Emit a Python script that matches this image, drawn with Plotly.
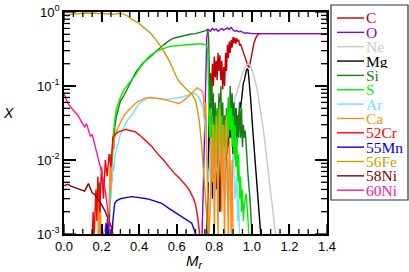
import plotly.graph_objects as go

# ---------------- data (mass coordinate M_r, mass fraction X) ----------------
M_C = [0.76, 0.765, 0.77, 0.775, 0.78, 0.785, 0.79, 0.795, 0.80, 0.805, 0.81, 0.815, 0.82, 0.825, 0.83, 0.835,
       0.84, 0.845, 0.85, 0.855, 0.86, 0.865, 0.87, 0.875, 0.88, 0.885, 0.89, 0.895, 0.90, 0.905, 0.91, 0.915,
       0.92, 0.925, 0.93, 0.935, 0.94, 0.95, 0.96, 0.97, 0.98, 0.985, 0.99, 1.00, 1.01, 1.02, 1.03, 1.04, 1.06, 1.10, 1.40]
X_C = [0.0008, 0.003, 0.02, 0.08, 0.15, 0.06, 0.2, 0.1, 0.25, 0.13, 0.22, 0.12, 0.28, 0.16, 0.26, 0.12,
       0.22, 0.09, 0.18, 0.1, 0.28, 0.16, 0.36, 0.24, 0.4, 0.28, 0.42, 0.33, 0.46, 0.38, 0.45, 0.37,
       0.44, 0.4, 0.42, 0.35, 0.37, 0.31, 0.26, 0.21, 0.185, 0.18, 0.2, 0.27, 0.37, 0.44, 0.49, 0.51, 0.51, 0.51, 0.51]

M_O = [0.73, 0.735, 0.74, 0.745, 0.75, 0.755, 0.76, 0.765, 0.77, 0.78, 0.79, 0.80, 0.81, 0.82, 0.83, 0.84, 0.85,
       0.86, 0.87, 0.88, 0.89, 0.90, 0.91, 0.92, 0.93, 0.94, 0.95, 0.96, 0.98, 1.00, 1.40]
X_O = [0.0006, 0.001, 0.003, 0.01, 0.05, 0.2, 0.45, 0.55, 0.58, 0.55, 0.6, 0.57, 0.59, 0.55, 0.58, 0.6, 0.57,
       0.59, 0.61, 0.58, 0.62, 0.57, 0.55, 0.56, 0.54, 0.55, 0.53, 0.52, 0.52, 0.51, 0.51]

M_NE = [0.77, 0.78, 0.79, 0.80, 0.81, 0.82, 0.83, 0.84, 0.85, 0.86, 0.865, 0.87, 0.88, 0.89, 0.90, 0.91, 0.92,
        0.93, 0.94, 0.95, 0.96, 0.97, 0.98, 0.99, 1.00, 1.01, 1.02, 1.03, 1.04, 1.05, 1.06, 1.07, 1.08, 1.09,
        1.10, 1.11, 1.12, 1.13]
X_NE = [0.0008, 0.004, 0.008, 0.005, 0.01, 0.007, 0.012, 0.009, 0.015, 0.03, 0.008, 0.025, 0.03, 0.06, 0.045,
        0.07, 0.08, 0.1, 0.12, 0.15, 0.17, 0.19, 0.2, 0.19, 0.17, 0.14, 0.11, 0.085, 0.06, 0.04, 0.027, 0.017,
        0.01, 0.006, 0.0035, 0.002, 0.0013, 0.0008]

M_MG = [0.76, 0.765, 0.77, 0.775, 0.78, 0.785, 0.79, 0.795, 0.80, 0.805, 0.81, 0.815, 0.82, 0.825, 0.83, 0.835,
        0.84, 0.845, 0.85, 0.855, 0.86, 0.865, 0.87, 0.875, 0.88, 0.885, 0.89, 0.895, 0.90, 0.905, 0.91, 0.915,
        0.92, 0.925, 0.93, 0.935, 0.94, 0.945, 0.95, 0.955, 0.96, 0.965, 0.97, 0.975, 0.98, 0.985, 0.99, 0.995,
        1.005, 1.015, 1.025, 1.035, 1.045, 1.05]
X_MG = [0.0008, 0.005, 0.02, 0.06, 0.01, 0.04, 0.003, 0.03, 0.01, 0.04, 0.004, 0.02, 0.008, 0.03, 0.002, 0.015,
        0.006, 0.025, 0.01, 0.04, 0.005, 0.02, 0.012, 0.035, 0.015, 0.05, 0.02, 0.04, 0.012, 0.035, 0.02, 0.05,
        0.025, 0.04, 0.03, 0.06, 0.05, 0.07, 0.09, 0.11, 0.12, 0.145, 0.16, 0.17, 0.165, 0.12, 0.09, 0.06,
        0.025, 0.011, 0.005, 0.0025, 0.0012, 0.0008]

M_SI = [0.185, 0.19, 0.195, 0.24, 0.245, 0.25, 0.255, 0.26, 0.265, 0.27, 0.28, 0.29, 0.30, 0.32, 0.34, 0.36,
        0.38, 0.40, 0.42, 0.44, 0.46, 0.48, 0.50, 0.53, 0.56, 0.58, 0.61, 0.64, 0.67, 0.70, 0.73, 0.755, 0.765,
        0.77, 0.775, 0.78, 0.785, 0.79, 0.795, 0.80, 0.805, 0.81, 0.815, 0.82, 0.825, 0.83, 0.835, 0.84, 0.845,
        0.85, 0.855, 0.86, 0.865, 0.87, 0.875, 0.88, 0.885, 0.89, 0.895, 0.90, 0.905, 0.91, 0.915, 0.92, 0.925,
        0.93, 0.935, 0.94, 0.945, 0.95, 0.955, 0.96, 0.965, 0.97, 0.975, 0.98, 0.99, 1.0, 1.005]
X_SI = [0.0008, 0.005, 0.0008, 0.0008, 0.004, 0.012, 0.006, 0.02, 0.014, 0.028, 0.04, 0.048, 0.062, 0.075,
        0.095, 0.118, 0.15, 0.175, 0.205, 0.225, 0.25, 0.27, 0.3, 0.36, 0.41, 0.44, 0.46, 0.48, 0.5, 0.51, 0.53,
        0.56, 0.59, 0.45, 0.1, 0.05, 0.12, 0.03, 0.08, 0.02, 0.06, 0.015, 0.05, 0.02, 0.08, 0.03, 0.1, 0.02, 0.06,
        0.015, 0.04, 0.01, 0.05, 0.02, 0.07, 0.03, 0.1, 0.04, 0.08, 0.03, 0.06, 0.02, 0.05, 0.015, 0.04, 0.02,
        0.06, 0.02, 0.05, 0.015, 0.03, 0.02, 0.025, 0.015, 0.01, 0.006, 0.003, 0.001, 0.0006]

M_S = [0.245, 0.25, 0.255, 0.26, 0.265, 0.27, 0.28, 0.29, 0.30, 0.32, 0.34, 0.36, 0.38, 0.40, 0.42, 0.44, 0.46,
       0.48, 0.50, 0.53, 0.56, 0.60, 0.65, 0.70, 0.74, 0.76, 0.765, 0.77, 0.775, 0.78, 0.785, 0.79, 0.795, 0.80,
       0.805, 0.81, 0.815, 0.82, 0.825, 0.83, 0.835, 0.84, 0.845, 0.85, 0.855, 0.86, 0.865, 0.87, 0.875, 0.88,
       0.885, 0.89, 0.895, 0.90, 0.905, 0.91, 0.915, 0.92, 0.925, 0.93, 0.935, 0.94, 0.945, 0.95, 0.955, 0.96,
       0.97, 0.98, 0.985]
X_S = [0.003, 0.01, 0.005, 0.02, 0.025, 0.035, 0.05, 0.06, 0.07, 0.09, 0.105, 0.12, 0.14, 0.17, 0.2, 0.23, 0.26,
       0.28, 0.3, 0.32, 0.34, 0.35, 0.36, 0.37, 0.37, 0.35, 0.3, 0.05, 0.02, 0.05, 0.01, 0.04, 0.008, 0.03,
       0.006, 0.025, 0.01, 0.05, 0.015, 0.06, 0.01, 0.04, 0.008, 0.03, 0.006, 0.035, 0.012, 0.05, 0.02, 0.07,
       0.025, 0.05, 0.015, 0.04, 0.01, 0.03, 0.008, 0.02, 0.005, 0.012, 0.003, 0.006, 0.002, 0.004, 0.0015,
       0.0025, 0.0035, 0.0015, 0.0008]

M_AR = [0.25, 0.255, 0.26, 0.265, 0.27, 0.28, 0.29, 0.30, 0.32, 0.34, 0.36, 0.38, 0.40, 0.43, 0.46, 0.50, 0.54,
        0.58, 0.62, 0.66, 0.68, 0.70, 0.72, 0.74, 0.75, 0.76, 0.77, 0.78, 0.785, 0.79, 0.80, 0.81, 0.82, 0.83,
        0.84, 0.85, 0.86, 0.87, 0.875, 0.88, 0.89, 0.90, 0.91, 0.92, 0.925, 0.93, 0.935]
X_AR = [0.003, 0.006, 0.009, 0.007, 0.011, 0.014, 0.018, 0.022, 0.028, 0.035, 0.04, 0.048, 0.058, 0.066, 0.07,
        0.068, 0.066, 0.068, 0.07, 0.075, 0.08, 0.078, 0.07, 0.05, 0.03, 0.01, 0.005, 0.02, 0.006, 0.015, 0.003,
        0.012, 0.004, 0.02, 0.005, 0.015, 0.003, 0.01, 0.002, 0.008, 0.004, 0.012, 0.003, 0.006, 0.0015, 0.003,
        0.0008]

M_CA = [0.18, 0.185, 0.19, 0.195, 0.20, 0.24, 0.245, 0.25, 0.255, 0.26, 0.27, 0.28, 0.30, 0.32, 0.34, 0.36,
        0.38, 0.40, 0.43, 0.46, 0.50, 0.53, 0.56, 0.59, 0.61, 0.63, 0.65, 0.67, 0.69, 0.71, 0.72, 0.73, 0.74,
        0.75, 0.755, 0.76, 0.765, 0.77, 0.78, 0.785, 0.79, 0.795, 0.80, 0.805, 0.81, 0.815, 0.82, 0.825, 0.83,
        0.835, 0.84, 0.845, 0.85, 0.855, 0.86, 0.865, 0.87, 0.875, 0.88, 0.885, 0.89, 0.895, 0.90]
X_CA = [0.0008, 0.003, 0.0009, 0.002, 0.0008, 0.002, 0.008, 0.004, 0.012, 0.015, 0.02, 0.025, 0.032, 0.04,
        0.046, 0.052, 0.058, 0.063, 0.068, 0.07, 0.068, 0.066, 0.063, 0.06, 0.058, 0.062, 0.068, 0.075, 0.085,
        0.095, 0.09, 0.088, 0.08, 0.04, 0.06, 0.01, 0.002, 0.0008, 0.003, 0.02, 0.005, 0.03, 0.001, 0.015, 0.04,
        0.008, 0.0008, 0.02, 0.05, 0.01, 0.002, 0.03, 0.006, 0.0008, 0.025, 0.04, 0.005, 0.0008, 0.02, 0.008,
        0.0009, 0.01, 0.0008]

M_CR = [0.15, 0.155, 0.16, 0.17, 0.175, 0.18, 0.19, 0.20, 0.21, 0.22, 0.23, 0.24, 0.25, 0.26, 0.27, 0.29, 0.31,
        0.33, 0.35, 0.38, 0.41, 0.44, 0.47, 0.50, 0.53, 0.56, 0.59, 0.62, 0.65, 0.67, 0.69, 0.70, 0.71, 0.72,
        0.725]
X_CR = [0.0008, 0.002, 0.0009, 0.004, 0.0015, 0.006, 0.002, 0.008, 0.003, 0.01, 0.006, 0.012, 0.008, 0.02,
        0.022, 0.024, 0.025, 0.026, 0.025, 0.024, 0.021, 0.018, 0.015, 0.012, 0.01, 0.008, 0.0065, 0.0055,
        0.0045, 0.0038, 0.003, 0.0025, 0.0018, 0.0011, 0.0008]

M_MN = [0.22, 0.225, 0.23, 0.235, 0.24, 0.255, 0.26, 0.265, 0.27, 0.28, 0.30, 0.33, 0.36, 0.40, 0.44, 0.48,
        0.52, 0.56, 0.60, 0.63, 0.66, 0.68, 0.69, 0.70, 0.705]
X_MN = [0.0008, 0.0014, 0.0009, 0.0016, 0.0008, 0.0008, 0.0015, 0.0022, 0.0026, 0.0028, 0.003, 0.0031, 0.0032,
        0.0031, 0.003, 0.0028, 0.0026, 0.0022, 0.0019, 0.0017, 0.0015, 0.0014, 0.0012, 0.001, 0.0008]

M_FE = [0.00, 0.01, 0.02, 0.03, 0.04, 0.06, 0.08, 0.10, 0.12, 0.14, 0.16, 0.18, 0.20, 0.22, 0.24, 0.26, 0.28,
        0.30, 0.32, 0.34, 0.36, 0.38, 0.40, 0.42, 0.44, 0.46, 0.48, 0.50, 0.52, 0.54, 0.56, 0.58, 0.60, 0.62,
        0.64, 0.66, 0.68, 0.70, 0.71, 0.72, 0.73, 0.74, 0.75, 0.76, 0.77]
X_FE = [0.90, 0.91, 0.88, 0.92, 0.93, 0.94, 0.96, 0.95, 0.97, 0.96, 0.97, 0.95, 0.96, 0.94, 0.95, 0.93, 0.95,
        0.96, 0.93, 0.88, 0.80, 0.75, 0.70, 0.63, 0.58, 0.52, 0.45, 0.39, 0.33, 0.27, 0.22, 0.17, 0.13, 0.11,
        0.096, 0.086, 0.078, 0.064, 0.048, 0.034, 0.019, 0.009, 0.004, 0.0018, 0.0008]

M_NI58 = [0.00, 0.02, 0.04, 0.06, 0.085, 0.11, 0.13, 0.15, 0.165, 0.18, 0.20, 0.22, 0.235, 0.255, 0.265]
X_NI58 = [0.0045, 0.0047, 0.0044, 0.0042, 0.004, 0.0038, 0.0048, 0.0036, 0.0034, 0.003, 0.0025, 0.002,
          0.0016, 0.0012, 0.0008]

M_NI60 = [0.00, 0.01, 0.02, 0.05, 0.075, 0.095, 0.11, 0.12, 0.14, 0.15, 0.165, 0.18, 0.20, 0.22, 0.235, 0.245,
          0.25]
X_NI60 = [0.079, 0.065, 0.058, 0.047, 0.04, 0.032, 0.028, 0.031, 0.021, 0.022, 0.015, 0.011, 0.007, 0.0038,
          0.0019, 0.0011, 0.0007]

NAMES = ["C", "O", "Ne", "Mg", "Si", "S", "Ar", "Ca", "52Cr", "55Mn", "56Fe", "58Ni", "60Ni"]
COLORS = ["#c00000", "#9400d3", "#c8c8c8", "#000000", "#1a7a1a", "#00ee00", "#70e0ff", "#ff8c1a",
          "#ff0000", "#0000ee", "#c4a000", "#800000", "#ff1493"]
SERIES = [(M_C, X_C), (M_O, X_O), (M_NE, X_NE), (M_MG, X_MG), (M_SI, X_SI), (M_S, X_S), (M_AR, X_AR),
          (M_CA, X_CA), (M_CR, X_CR), (M_MN, X_MN), (M_FE, X_FE), (M_NI58, X_NI58), (M_NI60, X_NI60)]

X_TICKS = [0.0, 0.2, 0.4, 0.6, 0.8, 1.0, 1.2, 1.4]
X_MINOR = [0.05, 0.10, 0.15, 0.25, 0.30, 0.35, 0.45, 0.50, 0.55, 0.65, 0.70, 0.75, 0.85, 0.90, 0.95,
           1.05, 1.10, 1.15, 1.25, 1.30, 1.35]
Y_TICKS = [1e-3, 1e-2, 1e-1, 1.0]
Y_TICKTEXT = ["10<sup>-3</sup>", "10<sup>-2</sup>", "10<sup>-1</sup>", "10<sup>0</sup>"]
Y_MINOR = [k * 10.0 ** e for e in (-3, -2, -1) for k in range(2, 10)]

# ---------------- figure ----------------
W, H = 409, 272
L, R, T, B = 64, 82, 12, 38
pw, ph = W - L - R, H - T - B


def px(xp):
    return (xp - L) / pw


def py(yp):
    return (H - B - yp) / ph


fig = go.Figure()
for name, col, (m, x) in zip(NAMES, COLORS, SERIES):
    fig.add_trace(go.Scatter(x=m, y=x, mode="lines", name=name, showlegend=False,
                             line=dict(color=col, width=1.4)))

tick_font = dict(family="Liberation Sans, Arial", size=13, color="black")

fig.update_layout(
    template="none",
    width=W, height=H, margin=dict(l=L, r=R, t=T, b=B, pad=0),
    paper_bgcolor="white", plot_bgcolor="white", showlegend=False,
    xaxis=dict(range=[0, 1.4], tickmode="array", tickvals=X_TICKS, tickformat=".1f",
               ticks="inside", ticklen=10, tickwidth=1.5, tickcolor="black",
               showline=True, linecolor="black", linewidth=1.5, mirror="allticks",
               showgrid=False, zeroline=False, automargin=False, tickfont=tick_font),
    yaxis=dict(type="log", range=[-3, 0], tickmode="array", tickvals=Y_TICKS, ticktext=Y_TICKTEXT,
               ticks="inside", ticklen=12, tickwidth=1.5, tickcolor="black",
               showline=True, linecolor="black", linewidth=1.5, mirror="allticks",
               showgrid=False, zeroline=False, automargin=False, tickfont=tick_font),
)

shapes = []
annotations = []
# tick marks drawn on the axes' own scales (major and minor, bottom/top and left/right)
for v in X_TICKS + X_MINOR:
    ln = 10 if v in X_TICKS else 5
    for y_edge, sgn in ((0, 1), (1, -1)):
        shapes.append(dict(type="line", xref="x", yref="y domain", x0=v, x1=v,
                           y0=y_edge, y1=y_edge + sgn * ln / ph,
                           line=dict(color="black", width=1.3), layer="above"))
for v in Y_TICKS + Y_MINOR:
    ln = 12 if v in Y_TICKS else 6
    for x_edge, sgn in ((0, 1), (1, -1)):
        shapes.append(dict(type="line", xref="x domain", yref="y", x0=x_edge, x1=x_edge + sgn * ln / pw,
                           y0=v, y1=v, line=dict(color="black", width=1.3), layer="above"))

# legend box
shapes.append(dict(type="rect", xref="paper", yref="paper", x0=px(331), x1=px(408), y0=py(200), y1=py(5),
                   line=dict(color="#333333", width=1.2), fillcolor="white", layer="above"))
for i, (name, col) in enumerate(zip(NAMES, COLORS)):
    yc = 18 + i * 14.35
    shapes.append(dict(type="line", xref="paper", yref="paper", x0=px(337), x1=px(364), y0=py(yc), y1=py(yc),
                       line=dict(color=col, width=1.4), layer="above"))
    annotations.append(dict(xref="paper", yref="paper", x=px(365), y=py(yc), text=name, showarrow=False,
                            xanchor="left", yanchor="middle", borderpad=0, height=13,
                            font=dict(family="Liberation Serif, Times New Roman", size=15.5, color=col)))

annotations.append(dict(xref="paper", yref="paper", x=px(8), y=py(113), text="<i>X</i>", showarrow=False,
                        xanchor="center", yanchor="middle",
                        font=dict(family="Liberation Sans, Arial", size=14, color="black")))
annotations.append(dict(xref="paper", yref="paper", x=px(184), y=py(261), text="<i>M</i><sub><i>r</i></sub>",
                        showarrow=False, xanchor="left", yanchor="middle",
                        font=dict(family="Liberation Sans, Arial", size=15, color="black")))

fig.update_layout(shapes=shapes, annotations=annotations)

fig.write_html("out.html", config={"displayModeBar": False},
               post_script="document.body.style.margin='0';document.body.style.padding='0';")
